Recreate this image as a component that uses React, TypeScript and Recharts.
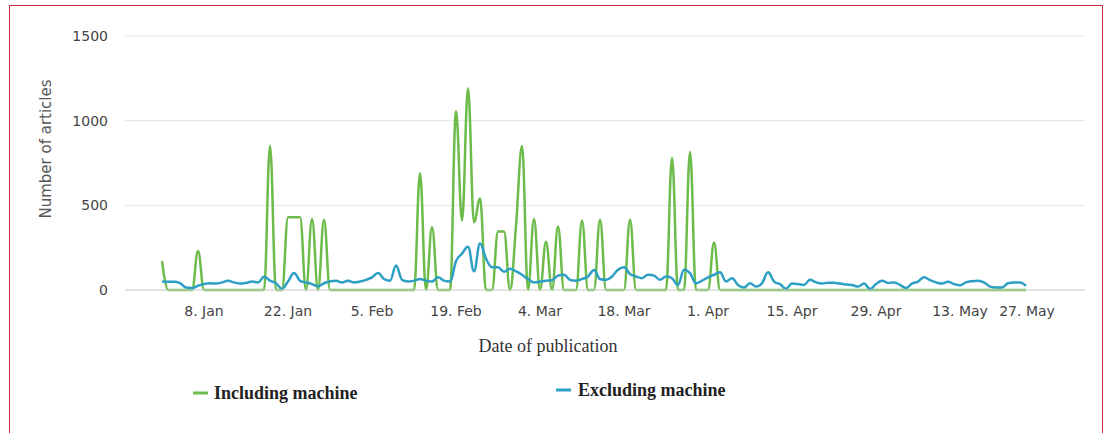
import { LineChart, Line, XAxis, YAxis, CartesianGrid } from 'recharts';

// one value per day, starting 1 Jan
const tickDays = [7, 21, 35, 49, 63, 77, 91, 105, 119, 133, 147];
const tickLabels = ['8. Jan', '22. Jan', '5. Feb', '19. Feb', '4. Mar', '18. Mar', '1. Apr', '15. Apr', '29. Apr', '13. May', '27. May'];
const yTicks = [0, 500, 1000, 1500];

const including = [
  170, 0, 0, 0, 0, 0, 230, 0, 0, 0,
  0, 0, 0, 0, 0, 0, 0, 0, 850, 0,
  0, 430, 430, 430, 0, 420, 0, 415, 0, 0,
  0, 0, 0, 0, 0, 0, 0, 0, 0, 0,
  0, 0, 0, 690, 0, 370, 0, 0, 0, 1055,
  410, 1190, 400, 540, 0, 0, 345, 345, 0, 380,
  850, 0, 420, 0, 285, 0, 375, 0, 0, 0,
  410, 0, 0, 415, 0, 0, 0, 0, 415, 0,
  0, 0, 0, 0, 0, 780, 0, 0, 815, 0,
  0, 0, 280, 0, 0, 0, 0, 0, 0, 0,
  0, 0, 0, 0, 0, 0, 0, 0, 0, 0,
  0, 0, 0, 0, 0, 0, 0, 0, 0, 0,
  0, 0, 0, 0, 0, 0, 0, 0, 0, 0,
  0, 0, 0, 0, 0, 0, 0, 0, 0, 0,
  0, 0, 0, 0, 0,
];

const excluding = [
  50, 48, 48, 40, 15, 12, 25, 35, 40, 38,
  45, 55, 45, 38, 42, 50, 45, 78, 55, 40,
  8, 50, 100, 55, 45, 35, 22, 40, 50, 55,
  45, 55, 45, 50, 60, 75, 100, 65, 55, 145,
  60, 50, 55, 65, 55, 50, 75, 55, 50, 170,
  215, 255, 110, 275, 185, 135, 135, 108, 125, 110,
  90, 65, 45, 50, 55, 58, 85, 90, 60, 55,
  65, 80, 118, 65, 60, 80, 120, 135, 95, 80,
  70, 90, 85, 60, 80, 70, 30, 120, 100, 40,
  55, 75, 90, 105, 50, 70, 30, 15, 40, 20,
  40, 105, 50, 35, 8, 38, 35, 30, 60, 45,
  38, 43, 43, 38, 32, 30, 20, 38, 6, 35,
  55, 42, 45, 30, 12, 38, 50, 75, 58, 45,
  38, 48, 35, 28, 45, 52, 55, 45, 20, 15,
  15, 40, 45, 45, 24,
];

const data = including.map((v, i) => ({ day: i, including: v, excluding: excluding[i] }));

const GREEN = '#6cbb4b';
const BLUE = '#2e9fc4';
const tickFont = '"DejaVu Sans", sans-serif';

// spline in the style of the original chart: control points at 0.4 of the gap, no false extremes
function splineCurve(context: any) {
  let pts: number[][] = [];
  return {
    areaStart() {},
    areaEnd() {},
    lineStart() { pts = []; },
    point(x: number, y: number) { pts.push([+x, +y]); },
    lineEnd() {
      const n = pts.length;
      if (!n) return;
      const smoothing = 1.5;
      const denom = smoothing + 1;
      const rc: number[][] = pts.map((p) => [p[0], p[1]]);
      const lc: number[][] = pts.map((p) => [p[0], p[1]]);
      for (let i = 1; i < n - 1; i++) {
        const [x, y] = pts[i];
        const [lx, ly] = pts[i - 1];
        const [nx, ny] = pts[i + 1];
        const lcx = (smoothing * x + lx) / denom;
        let lcy = (smoothing * y + ly) / denom;
        const rcx = (smoothing * x + nx) / denom;
        let rcy = (smoothing * y + ny) / denom;
        let corr = 0;
        if (rcx !== lcx) corr = ((rcy - lcy) * (rcx - x)) / (rcx - lcx) + y - rcy;
        lcy += corr;
        rcy += corr;
        if (lcy > ly && lcy > y) { lcy = Math.max(ly, y); rcy = 2 * y - lcy; }
        else if (lcy < ly && lcy < y) { lcy = Math.min(ly, y); rcy = 2 * y - lcy; }
        if (rcy > ny && rcy > y) { rcy = Math.max(ny, y); lcy = 2 * y - rcy; }
        else if (rcy < ny && rcy < y) { rcy = Math.min(ny, y); lcy = 2 * y - rcy; }
        lc[i] = [lcx, lcy];
        rc[i] = [rcx, rcy];
      }
      context.moveTo(pts[0][0], pts[0][1]);
      for (let i = 1; i < n; i++) {
        context.bezierCurveTo(rc[i - 1][0], rc[i - 1][1], lc[i][0], lc[i][1], pts[i][0], pts[i][1]);
      }
    },
  };
}

const DateTick = (props: any) => {
  const { x, y, payload } = props;
  const i = tickDays.indexOf(payload.value);
  const shift = i === tickDays.length - 1 ? -17 : 0;
  return (
    <text x={x + shift} y={y} dy="0.71em" textAnchor="middle" fill="#444" fontSize={14} fontFamily={tickFont}>
      {tickLabels[i]}
    </text>
  );
};

export default function App() {
  return (
    <div style={{ position: 'absolute', left: 0, top: 0, width: 1111, height: 433, background: '#fff', overflow: 'hidden' }}>
      <div style={{ position: 'absolute', left: 9, top: 5, width: 1092, height: 460, border: '1.5px solid #c8323c' }} />
      <LineChart width={1111} height={433} data={data} margin={{ top: 36, right: 26, left: 0, bottom: 0 }}>
        <CartesianGrid horizontal vertical={false} stroke="#e4e4e4" />
        <XAxis
          dataKey="day"
          type="number"
          domain={[-6.17, 153.83]}
          ticks={tickDays}
          height={143}
          tickLine={false}
          tickMargin={10}
          axisLine={{ stroke: '#d4d4d4' }}
          tick={<DateTick />}
          allowDataOverflow
        />
        <YAxis
          domain={[0, 1500]}
          ticks={yTicks}
          width={125}
          axisLine={false}
          tickLine={false}
          tickMargin={11}
          tick={{ fill: '#444', fontSize: 14, fontFamily: tickFont }}
        />
        <Line type={splineCurve as any} dataKey="including" stroke={GREEN} strokeWidth={2.5} dot={false} isAnimationActive={false} />
        <Line type={splineCurve as any} dataKey="excluding" stroke={BLUE} strokeWidth={2.5} dot={false} isAnimationActive={false} />
      </LineChart>
      <div
        style={{
          position: 'absolute', left: 46, top: 149, transform: 'translate(-50%, -50%) rotate(-90deg)',
          whiteSpace: 'nowrap', fontFamily: tickFont, fontSize: 15, color: '#555',
        }}
      >
        Number of articles
      </div>
      <div
        style={{
          position: 'absolute', left: 548, top: 346, transform: 'translate(-50%, -50%)',
          whiteSpace: 'nowrap', fontFamily: '"Liberation Serif", serif', fontSize: 18, color: '#333',
        }}
      >
        Date of publication
      </div>
      <div style={{ position: 'absolute', left: 193, top: 393, transform: 'translateY(-50%)', display: 'flex', alignItems: 'center' }}>
        <span style={{ display: 'inline-block', width: 15, height: 3, background: GREEN, marginRight: 6 }} />
        <span style={{ fontFamily: '"Liberation Serif", serif', fontWeight: 'bold', fontSize: 18, color: '#222' }}>Including machine</span>
      </div>
      <div style={{ position: 'absolute', left: 556, top: 390, transform: 'translateY(-50%)', display: 'flex', alignItems: 'center' }}>
        <span style={{ display: 'inline-block', width: 15, height: 3, background: BLUE, marginRight: 7 }} />
        <span style={{ fontFamily: '"Liberation Serif", serif', fontWeight: 'bold', fontSize: 18, color: '#222' }}>Excluding machine</span>
      </div>
    </div>
  );
}
